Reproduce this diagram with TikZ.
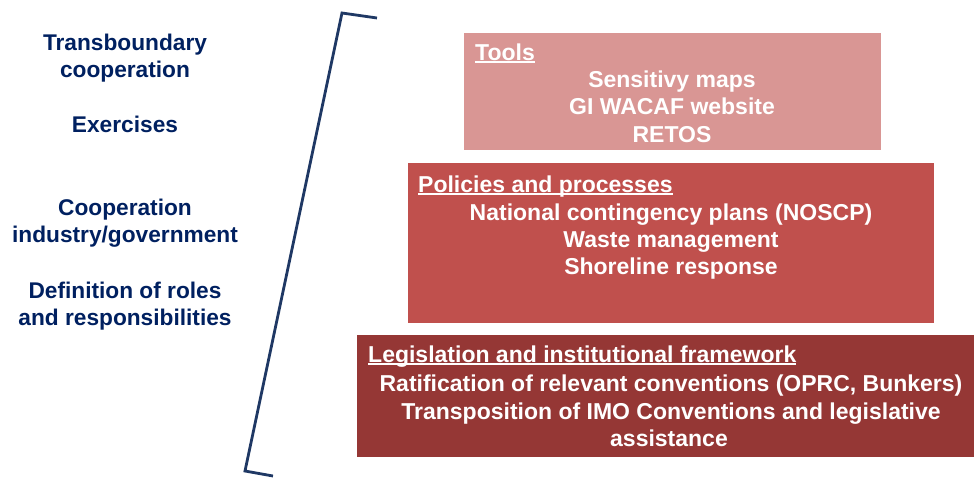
\documentclass[tikz,border=0pt]{standalone}
\usepackage{fontspec}
\setmainfont{Liberation Sans}
\definecolor{navy}{RGB}{0,32,96}
\definecolor{brk}{RGB}{31,56,100}
\definecolor{toolc}{RGB}{217,150,148}
\definecolor{polc}{RGB}{192,80,77}
\definecolor{legc}{RGB}{149,55,53}
\newcommand\myul[1]{\setbox0\hbox{#1}\rlap{\rule[-3.2pt]{\wd0}{1.8pt}}\box0}
\tikzset{
  lefttext/.style={text=navy, font=\bfseries\fontsize{22.7}{27.3}\selectfont, align=center, inner sep=0pt, anchor=base},
  boxtext/.style={text=white, font=\bfseries\fontsize{23}{27.3}\selectfont, align=center, inner sep=0pt, anchor=base},
}
\begin{document}
\begin{tikzpicture}[x=1pt,y=-1pt]
\useasboundingbox (0,0) rectangle (974,477);
% left labels
\node[lefttext] (lt1) at (125,50) {Transboundary};
\node[lefttext] (lt2) at (125,77) {cooperation};
\node[lefttext] (lt3) at (125,132) {Exercises};
\node[lefttext] (lt4) at (125,215) {Cooperation};
\node[lefttext] (lt5) at (125,242) {industry/government};
\node[lefttext] (lt6) at (125,298) {Definition of roles};
\node[lefttext] (lt7) at (125,325) {and responsibilities};
% bracket
\draw[brk, line width=2.8pt, line join=miter] (377,18) -- (342,13) -- (245,471) -- (273,476);
% boxes
\fill[toolc] (464,33) rectangle (881,150);
\fill[polc] (408,163) rectangle (934,323);
\fill[legc] (357,335) rectangle (974,457);
% tools
\node[boxtext, anchor=base west] (tt) at (475,60) {\myul{Tools}};
\node[boxtext] (t1) at (672,87) {Sensitivy maps};
\node[boxtext] (t2) at (672,114) {GI WACAF website};
\node[boxtext] (t3) at (672,142) {RETOS};
% policies
\node[boxtext, anchor=base west] (pt) at (418,192) {\myul{Policies and processes}};
\node[boxtext] (p1) at (671,220) {National contingency plans (NOSCP)};
\node[boxtext] (p2) at (671,247) {Waste management};
\node[boxtext] (p3) at (671,274) {Shoreline response};
% legislation
\node[boxtext, anchor=base west] (lgt) at (368,362) {\myul{Legislation and institutional framework}};
\node[boxtext] (l1) at (671,391) {Ratification of relevant conventions (OPRC, Bunkers)};
\node[boxtext] (l2) at (671,419) {Transposition of IMO Conventions and legislative};
\node[boxtext] (l3) at (669,446) {assistance};
\end{tikzpicture}
\end{document}
